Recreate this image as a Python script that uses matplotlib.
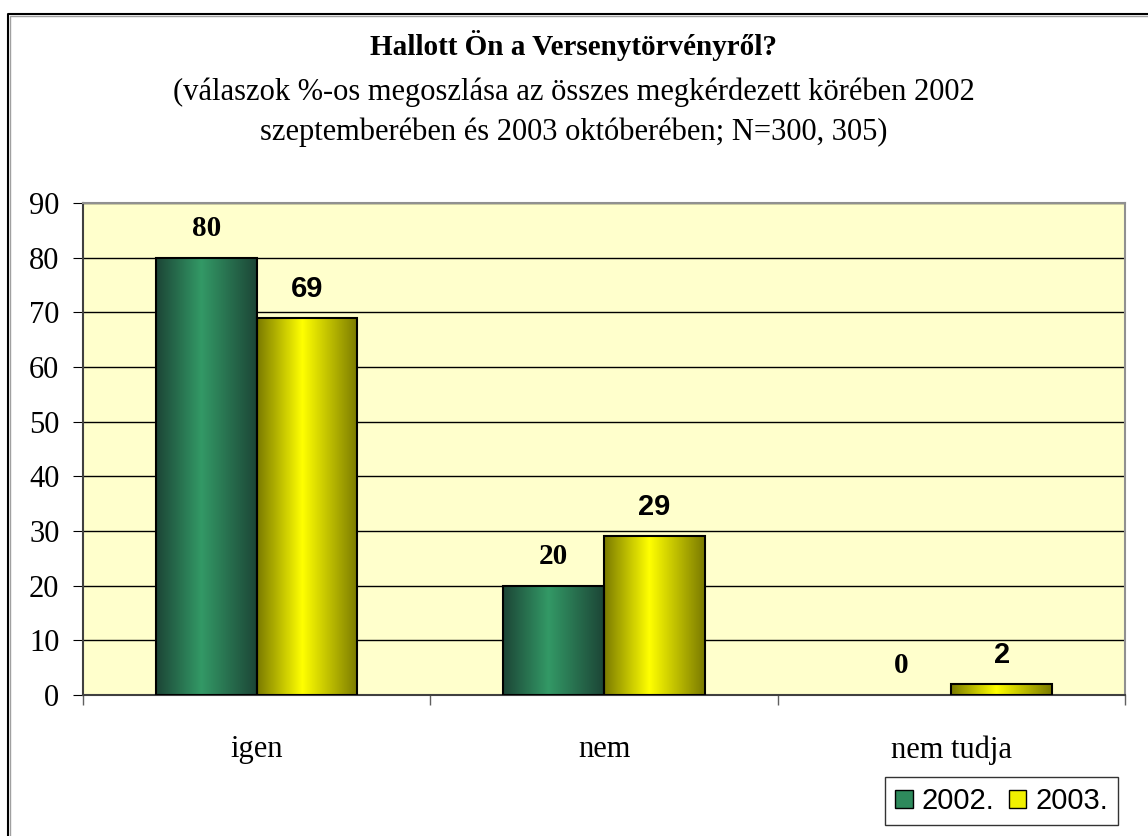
import matplotlib
matplotlib.use("Agg")
import matplotlib.pyplot as plt
import numpy as np
from matplotlib.patches import Rectangle, Patch
from matplotlib.lines import Line2D
from matplotlib.colors import LinearSegmentedColormap

categories = ["igen", "nem", "nem tudja"]
series_names = ["2002.", "2003."]
values_2002 = [80, 20, 0]
values_2003 = [69, 29, 2]
y_ticks = [0, 10, 20, 30, 40, 50, 60, 70, 80, 90]

title = "Hallott Ön a Versenytörvényről?"
subtitle = ("(válaszok %-os megoszlása az összes megkérdezett körében 2002\n"
            "szeptemberében és 2003 októberében; N=300, 305)")

serif = "Liberation Serif"
sans = "Liberation Sans"

green_cmap = LinearSegmentedColormap.from_list(
    "g", [(0, "#1c4536"), (0.45, "#339966"), (1, "#1c4536")])
yellow_cmap = LinearSegmentedColormap.from_list(
    "y", [(0, "#7a7a00"), (0.45, "#ffff00"), (1, "#7a7a00")])

fig = plt.figure(figsize=(11.48, 8.36), dpi=100)
fig.patch.set_facecolor("white")

# chart frame (cut off at right and bottom in the original)
fx, fy = 8 / 1148, 1 - 14 / 836
fig.add_artist(Line2D([fx, fx, 1.01], [-0.01, fy, fy], transform=fig.transFigure,
                      color="black", linewidth=1.5))
fig.add_artist(Line2D([fx + 0.002, fx + 0.002, 1.01], [-0.01, fy - 0.002, fy - 0.002],
                      transform=fig.transFigure, color="#a0a0a0", linewidth=1))

ax = fig.add_axes([0.0723, 0.1687, 0.9077, 0.5885])
ax.set_facecolor("#ffffcc")

x = np.arange(len(categories))
width = 0.29
grad = np.linspace(0, 1, 256).reshape(1, -1)


def draw_bars(xs, vals, cmap, label_font):
    for xi, v in zip(xs, vals):
        left = xi
        if v > 0:
            rect = Rectangle((left, 0), width, v, facecolor="none",
                             edgecolor="black", linewidth=1.5, zorder=4)
            ax.add_patch(rect)
            im = ax.imshow(grad, cmap=cmap, aspect="auto",
                           extent=(left, left + width, 0, v), zorder=3)
            im.set_clip_path(rect)
        ax.annotate(str(v), (left + width / 2, v), xytext=(0, 21),
                    textcoords="offset points", ha="center", va="center",
                    fontsize=21, fontweight="bold", family=label_font)


draw_bars(x - width, values_2002, green_cmap, serif)
draw_bars(x, values_2003, yellow_cmap, sans)

ax.set_xlim(-0.5, 2.5)
ax.set_ylim(0, 90)
ax.set_yticks(y_ticks)
ax.set_yticklabels([str(t) for t in y_ticks], family=serif, fontsize=22)
ax.yaxis.grid(True, color="black", linewidth=1)
ax.set_axisbelow(True)

ax.set_xticks([-0.5, 0.5, 1.5, 2.5])
ax.set_xticklabels([])
ax.set_xticks(x, minor=True)
ax.set_xticklabels(categories, minor=True, family=serif, fontsize=22)
ax.tick_params(axis="x", which="major", length=7, width=1, color="#606060",
               direction="out")
ax.tick_params(axis="x", which="minor", length=0, pad=29)
ax.tick_params(axis="y", length=7, pad=10, direction="out")

for s in ["top", "right"]:
    ax.spines[s].set_color("#909090")
    ax.spines[s].set_linewidth(1.5)
for s in ["left", "bottom"]:
    ax.spines[s].set_color("#404040")
    ax.spines[s].set_linewidth(1.5)

fig.text(0.5, 0.946, title, ha="center", va="center", family=serif,
         fontsize=21, fontweight="bold")
fig.text(0.5, 0.866, subtitle, ha="center", va="center", family=serif,
         fontsize=22, linespacing=1.45)

handles = [Patch(facecolor="#2e8a5c", edgecolor="black"),
           Patch(facecolor="#f0f000", edgecolor="black")]
leg = fig.legend(handles, series_names, loc="upper right",
                 bbox_to_anchor=(1118 / 1148, 1 - 777 / 836), ncol=2, frameon=True,
                 fancybox=False, edgecolor="black", prop={"family": sans, "size": 21},
                 handlelength=0.6, handleheight=0.6, handletextpad=0.3,
                 columnspacing=0.5, borderpad=0.35, borderaxespad=0)
leg.get_frame().set_linewidth(1)

fig.savefig("out.png", dpi=100)
